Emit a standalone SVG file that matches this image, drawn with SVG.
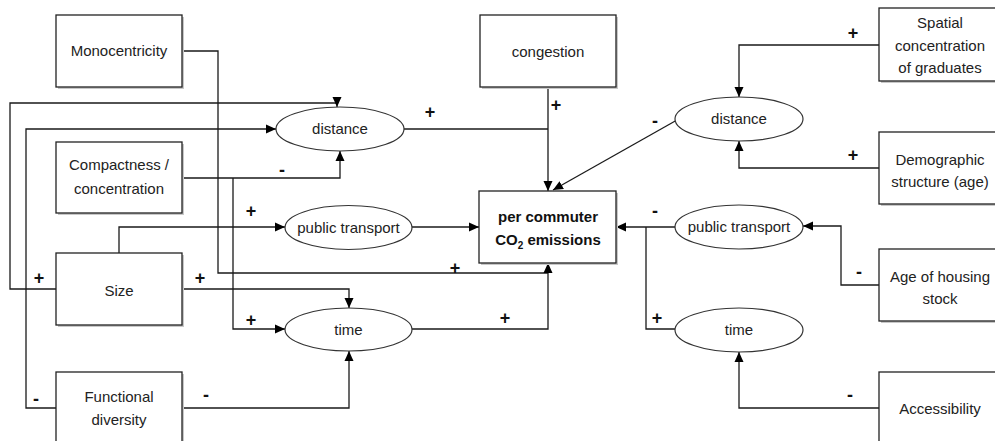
<svg xmlns="http://www.w3.org/2000/svg" width="995" height="441" viewBox="0 0 995 441">
<defs>
<marker id="arr" markerUnits="userSpaceOnUse" markerWidth="10" markerHeight="10" refX="10" refY="5" orient="auto">
<path d="M0,0.5 L10,5 L0,9.5 z" fill="#000"/>
</marker>
</defs>
<style>
.box{fill:#fff;stroke:#222;stroke-width:1.3}
.sh{fill:#c8c8c8}
.ell{fill:#fff;stroke:#333;stroke-width:1.2}
.t{font-family:"Liberation Sans",Arial,sans-serif;font-size:15px;fill:#222;text-anchor:middle}
.b{font-family:"Liberation Sans",Arial,sans-serif;font-size:15px;font-weight:bold;fill:#111;text-anchor:middle}
.s{font-family:"Liberation Sans",Arial,sans-serif;font-size:18px;font-weight:bold;fill:#111;text-anchor:middle}
.c{fill:none;stroke:#1a1a1a;stroke-width:1.3}
.a{marker-end:url(#arr)}
</style>
<rect width="995" height="441" fill="#fff"/>

<g id="connectors">
<path class="c" d="M182,51 H218 V273 H548"/>
<path class="c a" d="M56,289 H10 V103 H337 V107"/>
<path class="c a" d="M56,408 H26 V129 H276"/>
<path class="c a" d="M182,178 H340 V151"/>
<path class="c a" d="M233,178 V329 H285"/>
<path class="c a" d="M119,253 V227 H285"/>
<path class="c a" d="M182,289 H349 V308"/>
<path class="c a" d="M182,408 H349 V351"/>
<path class="c" d="M404,129 H548"/>
<path class="c a" d="M548,87 V191"/>
<path class="c a" d="M677,120 L553,190"/>
<path class="c a" d="M412,227 H479"/>
<path class="c a" d="M412,329 H548 V263"/>
<path class="c a" d="M675,227 H616"/>
<path class="c" d="M675,329 H646 V227"/>
<path class="c a" d="M879,45 H739 V97"/>
<path class="c a" d="M879,168 H739 V141"/>
<path class="c a" d="M879,285 H841 V226 H803"/>
<path class="c a" d="M879,408 H739 V352"/>
</g>

<g id="signs">
<text class="s" x="430" y="118">+</text>
<text class="s" x="556" y="111">+</text>
<text class="s" x="655" y="127">-</text>
<text class="s" x="282" y="176">-</text>
<text class="s" x="251" y="217">+</text>
<text class="s" x="251" y="326">+</text>
<text class="s" x="39" y="284">+</text>
<text class="s" x="200" y="284">+</text>
<text class="s" x="36" y="405">-</text>
<text class="s" x="206" y="401">-</text>
<text class="s" x="455" y="274">+</text>
<text class="s" x="505" y="324">+</text>
<text class="s" x="655" y="217">-</text>
<text class="s" x="657" y="324">+</text>
<text class="s" x="853" y="39">+</text>
<text class="s" x="853" y="161">+</text>
<text class="s" x="859" y="278">-</text>
<text class="s" x="850" y="401">-</text>
</g>

<g id="monocentricity">
<rect class="sh" x="58" y="17" width="126" height="72"/>
<rect class="box" x="56" y="15" width="126" height="72"/>
<text class="t" x="119" y="56">Monocentricity</text>
</g>
<g id="compactness">
<rect class="sh" x="58" y="144" width="126" height="71"/>
<rect class="box" x="56" y="142" width="126" height="71"/>
<text class="t" x="119" y="170">Compactness /</text>
<text class="t" x="119" y="194">concentration</text>
</g>
<g id="size">
<rect class="sh" x="58" y="255" width="126" height="72"/>
<rect class="box" x="56" y="253" width="126" height="72"/>
<text class="t" x="119" y="296">Size</text>
</g>
<g id="functional-diversity">
<rect class="sh" x="58" y="374" width="126" height="80"/>
<rect class="box" x="56" y="372" width="126" height="80"/>
<text class="t" x="119" y="402">Functional</text>
<text class="t" x="119" y="425">diversity</text>
</g>
<g id="congestion">
<rect class="sh" x="482" y="17" width="136" height="72"/>
<rect class="box" x="480" y="15" width="136" height="72"/>
<text class="t" x="548" y="57">congestion</text>
</g>
<g id="co2">
<rect class="sh" x="481" y="193" width="137" height="72"/>
<rect class="box" x="479" y="191" width="137" height="72"/>
<text class="b" x="548" y="222">per commuter</text>
<text class="b" x="548" y="245">CO<tspan font-size="10" dy="4">2</tspan><tspan dy="-4"> emissions</tspan></text>
</g>
<g id="spatial-concentration">
<rect class="sh" x="881" y="10" width="130" height="73"/>
<rect class="box" x="879" y="8" width="130" height="73"/>
<text class="t" x="940" y="28">Spatial</text>
<text class="t" x="940" y="51">concentration</text>
<text class="t" x="940" y="73">of graduates</text>
</g>
<g id="demographic">
<rect class="sh" x="881" y="134" width="130" height="72"/>
<rect class="box" x="879" y="132" width="130" height="72"/>
<text class="t" x="940" y="165">Demographic</text>
<text class="t" x="940" y="187">structure (age)</text>
</g>
<g id="age-housing">
<rect class="sh" x="881" y="251" width="130" height="72"/>
<rect class="box" x="879" y="249" width="130" height="72"/>
<text class="t" x="940" y="282">Age of housing</text>
<text class="t" x="940" y="304">stock</text>
</g>
<g id="accessibility">
<rect class="sh" x="881" y="374" width="130" height="80"/>
<rect class="box" x="879" y="372" width="130" height="80"/>
<text class="t" x="940" y="414">Accessibility</text>
</g>

<g id="distance-left">
<ellipse class="ell" cx="340" cy="129" rx="64" ry="22"/>
<text class="t" x="340" y="134">distance</text>
</g>
<g id="pt-left">
<ellipse class="ell" cx="348.5" cy="227.5" rx="63.5" ry="22"/>
<text class="t" x="348.5" y="233">public transport</text>
</g>
<g id="time-left">
<ellipse class="ell" cx="348.5" cy="329.5" rx="63.5" ry="21.5"/>
<text class="t" x="348.5" y="335">time</text>
</g>
<g id="distance-right">
<ellipse class="ell" cx="739" cy="119" rx="64" ry="22"/>
<text class="t" x="739" y="124">distance</text>
</g>
<g id="pt-right">
<ellipse class="ell" cx="739" cy="227" rx="64" ry="22"/>
<text class="t" x="739" y="232">public transport</text>
</g>
<g id="time-right">
<ellipse class="ell" cx="739" cy="330" rx="64" ry="22"/>
<text class="t" x="739" y="335">time</text>
</g>
</svg>
